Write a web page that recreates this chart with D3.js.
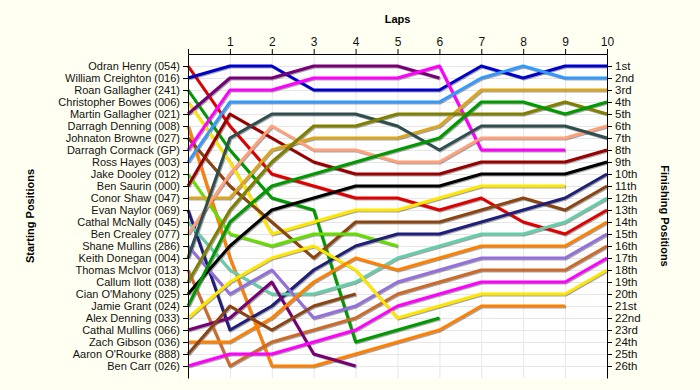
<!DOCTYPE html>
<html>
<head>
<meta charset="utf-8">
<script src="https://cdn.jsdelivr.net/npm/d3@7"></script>
<style>
  body { margin: 0; background: #fffff2; }
  svg { display: block; font-family: "Liberation Sans", Arial, sans-serif; }
  .axis text { font-size: 11px; fill: #111; }
  .axis path, .axis line { stroke: #000; }
  .title { font-size: 11px; font-weight: bold; }
</style>
</head>
<body>
<div id="chart"></div>
<script>
// starting grid, top to bottom
var drivers = [
  "Odran Henry (054)", "William Creighton (016)", "Roan Gallagher (241)", "Christopher Bowes (006)",
  "Martin Gallagher (021)", "Darragh Denning (008)", "Johnaton Browne (027)", "Darragh Cormack (GP)",
  "Ross Hayes (003)", "Jake Dooley (012)", "Ben Saurin (000)", "Conor Shaw (047)", "Evan Naylor (069)",
  "Cathal McNally (045)", "Ben Crealey (077)", "Shane Mullins (286)", "Keith Donegan (004)",
  "Thomas McIvor (013)", "Callum Ilott (038)", "Cian O'Mahony (025)", "Jamie Grant (024)",
  "Alex Denning (033)", "Cathal Mullins (066)", "Zach Gibson (036)", "Aaron O'Rourke (888)", "Ben Carr (026)"
];

var finishLabels = ["1st","2nd","3rd","4th","5th","6th","7th","8th","9th","10th","11th","12th","13th",
  "14th","15th","16th","17th","18th","19th","20th","21st","22nd","23rd","24th","25th","26th"];

var laps = [0,1,2,3,4,5,6,7,8,9,10];

// position at lap 0..n for each driver (shorter = retired)
var positions = [
  [1,6,10,11,12,12,13,12,14,15,13],
  [2,1,1,3,3,3,3,1,2,1,1],
  [3,8,12,13,24,23,22],
  [4,9,15,14,13,13,12,11,11,11],
  [5,2,2,1,1,1,2],
  [6,17,26,26,25,24,23,21,21,21],
  [7,11,14,17,14,14,14,13,12,13,11],
  [8,3,3,2,2,2,1,8,8,8],
  [9,4,4,4,4,4,4,2,1,2,2],
  [10,15,16,15,15,16],
  [11,5,7,9,10,10,10,9,9,9,8],
  [12,12,8,7,7,7,6,3,3,3,3],
  [13,23,21,18,16,15,15,14,13,12,10],
  [14,18,20,20,19,17,16,15,15,14,12],
  [15,10,6,8,8,9,9,7,7,7,6],
  [16,20,18,22,21,19,18,17,17,17,15],
  [17,7,5,5,5,6,8,6,6,6,7],
  [18,26,24,23,22,20,19,18,18,18,16],
  [19,13,9,6,6,5,5,5,5,4,5],
  [20,16,13,12,11,11,11,10,10,10,9],
  [21,14,11,10,9,8,7,4,4,5,4],
  [22,19,17,16,18,22,21,20,20,20,18],
  [23,22,19,25,26],
  [24,24,22,19,17,18,17,16,16,16,14],
  [25,21,23,21,20],
  [26,25,25,24,23,21,20,19,19,19,17]
];

var colors = [
  "#e00000","#0000cc","#009900","#ffe600","#770077","#ff8000","#8b4513","#ff00ff",
  "#3399ff","#66dd00","#990000","#daa520","#1f1f7a","#66cdaa","#ffa07a","#9370db",
  "#2f4f4f","#cc6a2a","#808000","#000000","#009900","#ffe600","#770077","#ff8000",
  "#8b4513","#ff00ff"
];

var width = 700, height = 390;

var svg = d3.select("#chart").append("svg")
  .attr("width", width).attr("height", height);

var x = d3.scaleLinear().domain([0, 10]).range([188, 607]);
var y = d3.scaleLinear().domain([0, 27]).range([54, 378]);

// plot background
svg.append("rect")
  .attr("x", x(0)).attr("y", y(0))
  .attr("width", x(10) - x(0)).attr("height", y(27) - y(0))
  .attr("fill", "#ffffff");

// grid
var grid = svg.append("g").attr("stroke", "#e6e6e6").attr("stroke-width", 1);
grid.selectAll(".hg").data(d3.range(1, 27)).enter().append("line")
  .attr("x1", x(0)).attr("x2", x(10))
  .attr("y1", function(d) { return y(d) + 0.5; }).attr("y2", function(d) { return y(d) + 0.5; });
grid.selectAll(".vg").data(laps.slice(1)).enter().append("line")
  .attr("y1", y(0)).attr("y2", y(27))
  .attr("x1", function(d) { return x(d) + 0.5; }).attr("x2", function(d) { return x(d) + 0.5; });

// lines
var line = d3.line()
  .x(function(d, i) { return x(i); })
  .y(function(d) { return y(d); });

var lines = svg.append("g").attr("fill", "none").attr("stroke-linejoin", "round");

lines.selectAll(".shadow").data(positions).enter().append("path")
  .attr("d", line)
  .attr("transform", "translate(1,1)")
  .attr("stroke", "rgba(0,0,0,0.35)")
  .attr("stroke-width", 3);

lines.selectAll(".race").data(positions).enter().append("path")
  .attr("d", line)
  .attr("stroke", function(d, i) { return colors[i]; })
  .attr("stroke-width", 3);

// axes
svg.append("g")
  .attr("class", "axis")
  .attr("transform", "translate(0," + y(0) + ")")
  .call(d3.axisTop(x).tickValues(laps).tickSize(5).tickSizeOuter(0)
    .tickFormat(function(d) { return d === 0 ? "" : d; }))
  .selectAll("text").style("font-size", "12px");

svg.append("g")
  .attr("class", "axis")
  .attr("transform", "translate(" + x(0) + ",0)")
  .call(d3.axisLeft(y).tickValues(d3.range(1, 27)).tickSize(5).tickSizeOuter(0)
    .tickFormat(function(d) { return drivers[d - 1]; }));

svg.append("g")
  .attr("class", "axis")
  .attr("transform", "translate(" + x(10) + ",0)")
  .call(d3.axisRight(y).tickValues(d3.range(1, 27)).tickSize(5).tickSizeOuter(0)
    .tickFormat(function(d) { return finishLabels[d - 1]; }))
  .selectAll("text").style("font-size", "11.5px");

// titles
svg.append("text").attr("class", "title")
  .attr("x", (x(0) + x(10)) / 2).attr("y", 23)
  .attr("text-anchor", "middle").text("Laps");

svg.append("text").attr("class", "title")
  .attr("transform", "translate(34," + (y(0) + y(27)) / 2 + ") rotate(-90)")
  .attr("text-anchor", "middle").text("Starting Positions");

svg.append("text").attr("class", "title")
  .attr("transform", "translate(661," + (y(0) + y(27)) / 2 + ") rotate(90)")
  .attr("text-anchor", "middle").text("Finishing Positions");
</script>
</body>
</html>
